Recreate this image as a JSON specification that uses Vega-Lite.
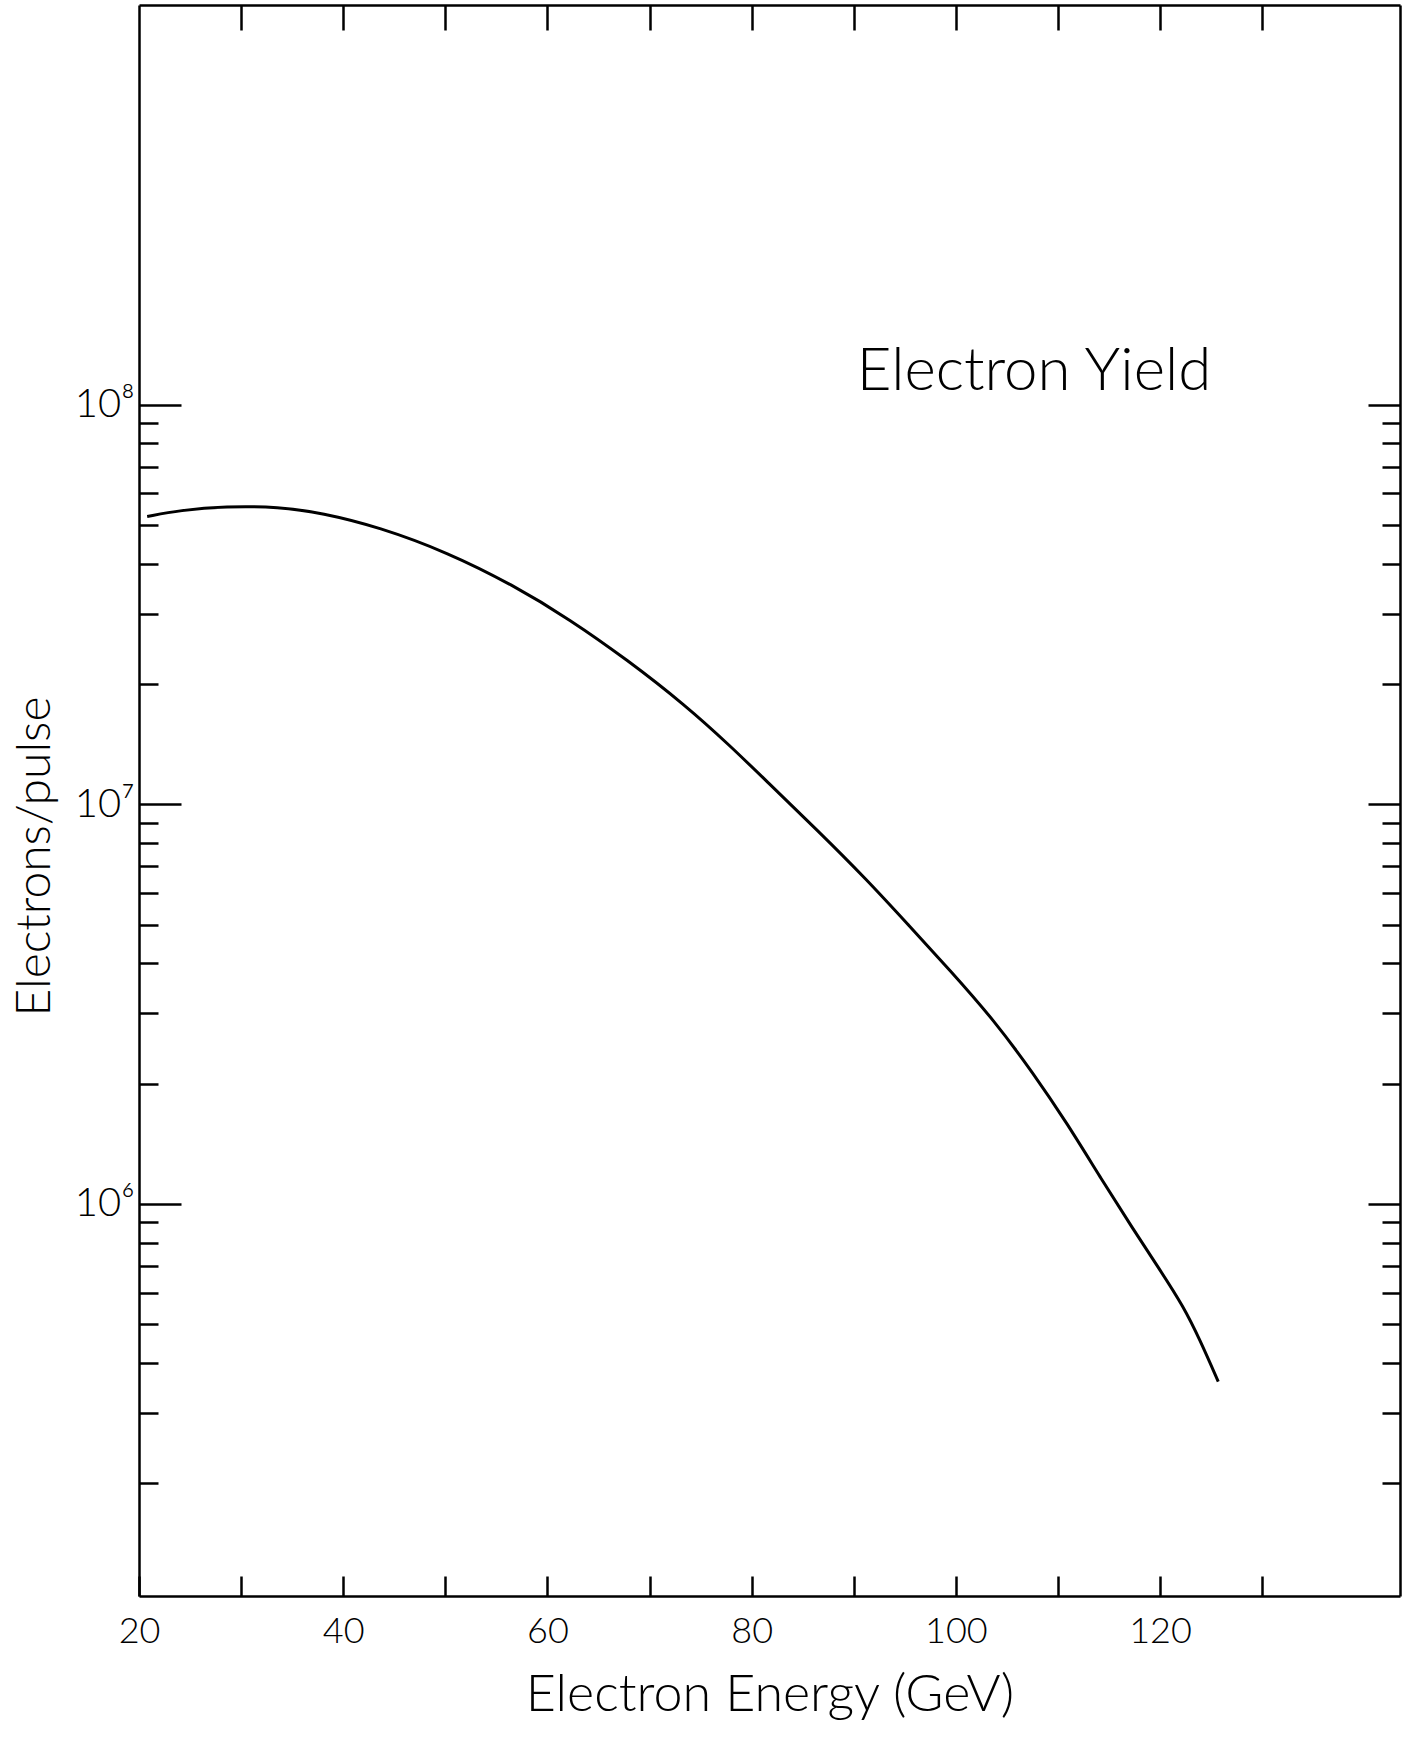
{
  "$schema": "https://vega.github.io/schema/vega-lite/v6.json",
  "width": 1261,
  "height": 1591,
  "autosize": {"type": "none"},
  "padding": {"left": 139, "top": 5, "right": 9, "bottom": 152},
  "background": "white",
  "config": {
    "view": {"stroke": null},
    "axis": {
      "grid": false,
      "domainColor": "black",
      "domainWidth": 2.5,
      "tickColor": "black",
      "tickWidth": 2.5,
      "ticks": true,
      "labelColor": "black",
      "labelFont": "Lato",
      "labelFontWeight": 300,
      "titleFont": "Lato",
      "titleFontWeight": 300,
      "titleColor": "black",
      "labelFlush": false,
      "labelOverlap": false
    }
  },
  "datasets": {
    "curve": [
      {"energy": 20.8, "yield": 52500000},
      {"energy": 24.0, "yield": 54400000},
      {"energy": 28.5, "yield": 55700000},
      {"energy": 33.7, "yield": 55500000},
      {"energy": 37.9, "yield": 53600000},
      {"energy": 43.5, "yield": 49400000},
      {"energy": 50.2, "yield": 42700000},
      {"energy": 56.6, "yield": 35400000},
      {"energy": 62.2, "yield": 29000000},
      {"energy": 67.8, "yield": 23000000},
      {"energy": 73.5, "yield": 17700000},
      {"energy": 77.9, "yield": 14000000},
      {"energy": 81.5, "yield": 11400000},
      {"energy": 86.4, "yield": 8630000},
      {"energy": 91.3, "yield": 6470000},
      {"energy": 95.35, "yield": 4990000},
      {"energy": 99.4, "yield": 3850000},
      {"energy": 103.7, "yield": 2890000},
      {"energy": 107.6, "yield": 2120000},
      {"energy": 110.9, "yield": 1590000},
      {"energy": 114.1, "yield": 1170000},
      {"energy": 117.4, "yield": 861000},
      {"energy": 120.0, "yield": 683000},
      {"energy": 122.3, "yield": 553000},
      {"energy": 123.9, "yield": 457000},
      {"energy": 125.7, "yield": 359000}
    ],
    "note": [
      {"energy": 90.3, "yield": 109000000, "label": "Electron Yield"}
    ]
  },
  "resolve": {
    "scale": {"x": "shared", "y": "shared"},
    "axis": {"x": "independent", "y": "independent"}
  },
  "layer": [
    {
      "data": {"name": "curve"},
      "mark": {"type": "line", "color": "black", "strokeWidth": 3, "interpolate": "basis"},
      "encoding": {
        "x": {
          "field": "energy",
          "type": "quantitative",
          "scale": {"domain": [20, 143.5], "nice": false, "zero": false},
          "axis": {
            "orient": "bottom",
            "values": [20, 30, 40, 50, 60, 70, 80, 90, 100, 110, 120, 130],
            "labelExpr": "datum.value % 20 == 0 ? datum.label : ''",
            "tickSize": -20,
            "labelPadding": 38,
            "labelFontSize": 36,
            "title": "Electron Energy (GeV)",
            "titleFontSize": 52,
            "titleBaseline": "alphabetic",
            "titleY": 114
          }
        },
        "y": {
          "field": "yield",
          "type": "quantitative",
          "scale": {"type": "log", "domain": [104400, 1000000000], "nice": false, "zero": false},
          "axis": {
            "orient": "left",
            "values": [1000000, 10000000, 100000000],
            "labelExpr": "datum.value == 100000000 ? '10⁸' : datum.value == 10000000 ? '10⁷' : '10⁶'",
            "tickSize": -42,
            "labelPadding": 47,
            "labelFontSize": 40,
            "title": "Electrons/pulse",
            "titleFontSize": 48,
            "titleAngle": 270,
            "titleBaseline": "middle",
            "titleAlign": "center",
            "titleX": -104,
            "titleY": 851
          }
        }
      }
    },
    {
      "data": {"name": "note"},
      "mark": {"type": "text", "align": "left", "baseline": "alphabetic", "font": "Lato", "fontWeight": 300, "fontSize": 60, "color": "black"},
      "encoding": {
        "x": {
          "field": "energy",
          "type": "quantitative",
          "scale": {"domain": [20, 143.5], "nice": false, "zero": false},
          "axis": {
            "orient": "top",
            "values": [30, 40, 50, 60, 70, 80, 90, 100, 110, 120, 130],
            "labels": false,
            "tickSize": -25,
            "title": null
          }
        },
        "y": {
          "field": "yield",
          "type": "quantitative",
          "scale": {"type": "log", "domain": [104400, 1000000000], "nice": false, "zero": false},
          "axis": {
            "orient": "left",
            "values": [200000, 300000, 400000, 500000, 600000, 700000, 800000, 900000, 2000000, 3000000, 4000000, 5000000, 6000000, 7000000, 8000000, 9000000, 20000000, 30000000, 40000000, 50000000, 60000000, 70000000, 80000000, 90000000],
            "labels": false,
            "domain": false,
            "tickSize": -19,
            "title": null
          }
        },
        "text": {"field": "label"}
      }
    },
    {
      "data": {"name": "curve"},
      "mark": {"type": "line", "opacity": 0},
      "encoding": {
        "x": {
          "field": "energy",
          "type": "quantitative",
          "scale": {"domain": [20, 143.5], "nice": false, "zero": false},
          "axis": null
        },
        "y": {
          "field": "yield",
          "type": "quantitative",
          "scale": {"type": "log", "domain": [104400, 1000000000], "nice": false, "zero": false},
          "axis": {
            "orient": "right",
            "values": [200000, 300000, 400000, 500000, 600000, 700000, 800000, 900000, 2000000, 3000000, 4000000, 5000000, 6000000, 7000000, 8000000, 9000000, 20000000, 30000000, 40000000, 50000000, 60000000, 70000000, 80000000, 90000000],
            "labels": false,
            "tickSize": -18,
            "title": null
          }
        }
      }
    },
    {
      "data": {"name": "curve"},
      "mark": {"type": "line", "opacity": 0},
      "encoding": {
        "x": {
          "field": "energy",
          "type": "quantitative",
          "scale": {"domain": [20, 143.5], "nice": false, "zero": false},
          "axis": null
        },
        "y": {
          "field": "yield",
          "type": "quantitative",
          "scale": {"type": "log", "domain": [104400, 1000000000], "nice": false, "zero": false},
          "axis": {
            "orient": "right",
            "values": [1000000, 10000000, 100000000],
            "labels": false,
            "domain": false,
            "tickSize": -32,
            "title": null
          }
        }
      }
    }
  ]
}
